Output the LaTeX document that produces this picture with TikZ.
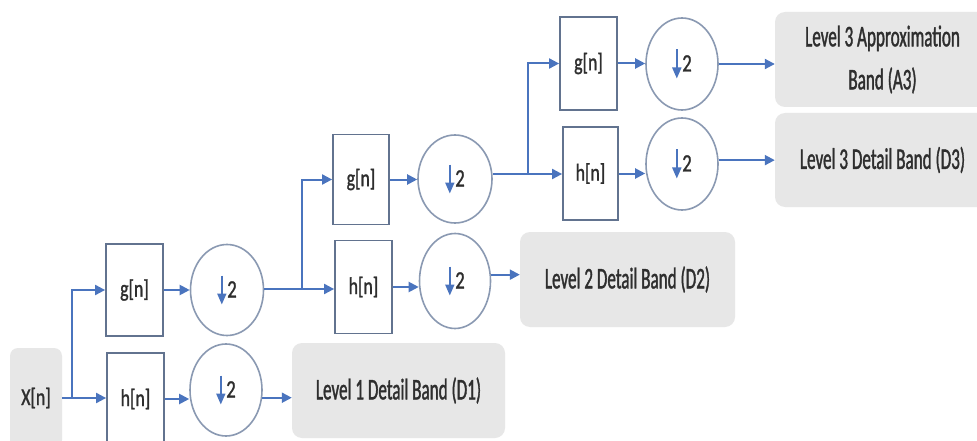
\documentclass[tikz,border=0pt]{standalone}
\usepackage{fontspec}
\setmainfont{Carlito}
\newfontfamily\bandfont{Carlito}[FakeStretch=0.57,FakeBold=1.2]
\newfontfamily\filtfont{Carlito}[FakeStretch=0.74,FakeBold=1.2]
\usetikzlibrary{arrows.meta,shapes.geometric}

\definecolor{flow}{HTML}{4A74BE}
\definecolor{frame}{HTML}{62738F}
\definecolor{ring}{HTML}{8A99B2}
\definecolor{bandgray}{HTML}{E7E7E7}
\definecolor{ink}{HTML}{2E2E2E}

% down-sampling symbol: a blue arrow followed by the factor 2
\newcommand\downbytwo{\tikz[baseline=0pt]\draw[draw=flow, line width=1.8pt,
  -{Triangle[length=11pt,width=9pt]}] (0pt,22pt) -- (0pt,-7pt);\hspace{1pt}2}

\tikzset{
  filt/.style={draw=frame, line width=1.8pt, fill=white, inner sep=0pt,
    minimum width=57pt, minimum height=92pt, text=ink,
    font=\filtfont\fontsize{24}{28}\selectfont},
  down/.style={ellipse, draw=ring, line width=1.6pt, inner sep=0pt,
    minimum width=73pt, minimum height=91pt, text=ink,
    font=\filtfont\fontsize{25}{28}\selectfont},
  band/.style={fill=bandgray, rounded corners=10pt, inner sep=0pt,
    minimum width=215pt, minimum height=95pt, text=ink, align=center,
    font=\bandfont\fontsize{30}{43}\selectfont},
  wire/.style={draw=flow, line width=2pt},
  arr/.style={wire, -{Triangle[length=10pt,width=10pt]}}
}

\begin{document}
\begin{tikzpicture}[x=1pt,y=-1pt]
  \clip (0,0) rectangle (977,441);
  \fill[white] (0,0) rectangle (977,441);

  % input signal
  \node[band, minimum width=52pt, minimum height=100pt, rounded corners=8pt,
        font=\filtfont\fontsize{24}{28}\selectfont] (x) at (36,398) {X[n]};

  % level 1
  \node[filt] (g1) at (134.5,290) {g[n]};
  \node[filt] (h1) at (135.5,399) {h[n]};
  \node[down] (cg1) at (227,290) {\downbytwo};
  \node[down, minimum width=72pt, minimum height=92pt] (ch1) at (226,390) {\downbytwo};
  \node[band, minimum width=213pt] (d1) at (398.5,390.5) {Level 1 Detail Band (D1)};

  % level 2
  \node[filt, minimum width=56pt, minimum height=90pt] (g2) at (361,179.5) {g[n]};
  \node[filt, minimum height=93pt] (h2) at (363.5,287) {h[n]};
  \node[down, minimum width=74pt, minimum height=88pt] (cg2) at (455,179) {\downbytwo};
  \node[down, minimum width=71pt, minimum height=95pt] (ch2) at (455,281) {\downbytwo};
  \node[band] (d2) at (627.5,279.5) {Level 2 Detail Band (D2)};

  % level 3
  \node[filt, minimum height=93pt] (g3) at (588.5,63.5) {g[n]};
  \node[filt, minimum width=55pt, minimum height=93pt] (h3) at (590.5,173.5) {h[n]};
  \node[down, minimum width=72pt, minimum height=92pt] (cg3) at (682,64) {\downbytwo};
  \node[down, minimum width=72pt, minimum height=92pt] (ch3) at (682,164) {\downbytwo};
  \node[band, minimum height=95pt] (a3) at (882.5,59.5) {Level 3 Approximation\\Band (A3)};
  \node[band, minimum height=94pt] (d3) at (882.5,160) {Level 3 Detail Band (D3)};

  % branch points
  \coordinate (s1) at (72,398);
  \coordinate (s2) at (302,289);
  \coordinate (s3) at (528,174);

  % level 1 connections
  \draw[arr] (x.east) -- (x.east -| h1.west);
  \draw[arr] (s1) |- (g1.west);
  \draw[arr] (g1.east) -- (g1.east -| cg1.west);
  \draw[arr] (h1.east) -- (h1.east -| ch1.west);
  \draw[arr] (ch1.-12) -- (ch1.-12 -| d1.west);

  % level 2 connections
  \draw[wire] (s2 -| cg1.east) -- (s2);
  \draw[arr] (s2) |- (g2.west);
  \draw[arr] (s2) -- (s2 -| h2.west);
  \draw[arr] (g2.east) -- (g2.east -| cg2.west);
  \draw[arr] (h2.east) -- (h2.east -| ch2.west);
  \draw[arr] (ch2.10) -- (ch2.10 -| d2.west);

  % level 3 connections
  \draw[wire] (s3 -| cg2.east) -- (s3);
  \draw[arr] (s3) |- (g3.west);
  \draw[arr] (s3) -- (s3 -| h3.west);
  \draw[arr] (g3.east) -- (g3.east -| cg3.west);
  \draw[arr] (h3.east) -- (h3.east -| ch3.west);
  \draw[arr] (cg3.east) -- (cg3.east -| a3.west);
  \draw[arr] (ch3.6) -- (ch3.6 -| d3.west);
\end{tikzpicture}
\end{document}
